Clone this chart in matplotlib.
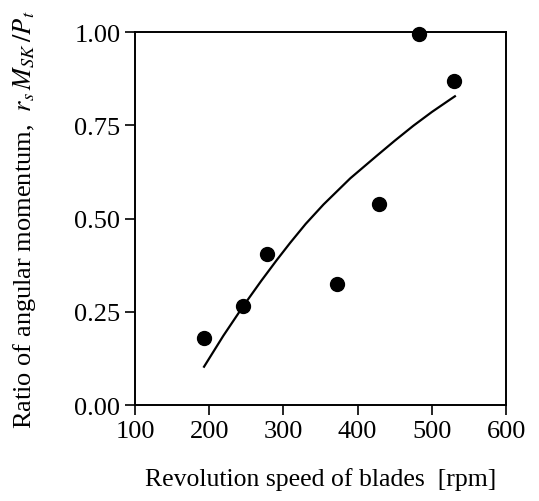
import numpy as np
import matplotlib
matplotlib.use('Agg')
import matplotlib.pyplot as plt

# measured points
rpm = [193, 246, 278, 372, 429, 483, 530]
ratio = [0.18, 0.266, 0.406, 0.325, 0.539, 0.995, 0.869]

# fitted curve
fit_rpm = [193, 219, 246, 270, 291, 309, 330, 354, 390, 426, 450, 475, 500, 525, 531]
fit_ratio = [0.103, 0.186, 0.266, 0.333, 0.389, 0.435, 0.486, 0.538, 0.608, 0.669, 0.709, 0.749, 0.786, 0.820, 0.828]

x_ticks = [100, 200, 300, 400, 500, 600]
y_ticks = [0.00, 0.25, 0.50, 0.75, 1.00]

plt.rcParams['font.family'] = 'Liberation Serif'
plt.rcParams['mathtext.fontset'] = 'stix'

fig = plt.figure(figsize=(5.39, 5.02), dpi=100)
ax = fig.add_axes([0.2505, 0.191, 0.6885, 0.743])

ax.plot(fit_rpm, fit_ratio, color='k', linewidth=1.6, zorder=2)
ax.plot(rpm, ratio, 'o', color='k', markersize=10, zorder=3, clip_on=False)

ax.set_xlim(100, 600)
ax.set_ylim(0, 1)
ax.set_xticks(x_ticks)
ax.set_yticks(y_ticks)
ax.set_yticklabels(['%.2f' % v for v in y_ticks])
ax.tick_params(direction='out', length=7, width=1.2, labelsize=19, colors='k')
ax.tick_params(axis='x', pad=4)
for s in ax.spines.values():
    s.set_linewidth(1.4)

ax.set_xlabel('Revolution speed of blades  [rpm]', fontsize=18.5, labelpad=18)
ax.set_ylabel('Ratio of angular momentum,  $r_s\\,M_{SK}\\,/P_t$', fontsize=19, labelpad=26)

plt.savefig('out.png', dpi=100)
